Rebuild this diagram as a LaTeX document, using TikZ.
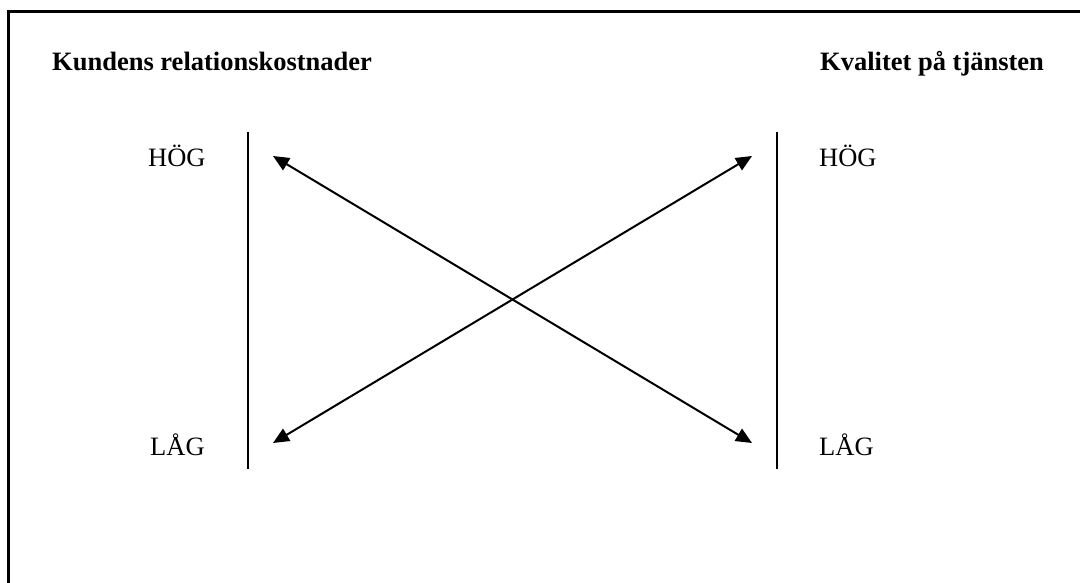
\documentclass[tikz,border=0pt]{standalone}
\usepackage{fontspec}
\setmainfont{Liberation Serif}
\usetikzlibrary{arrows.meta}
\begin{document}
\begin{tikzpicture}[x=1pt,y=-1pt,
  heading/.style={font=\fontsize{26.5}{30}\selectfont\bfseries, anchor=base west, inner sep=0pt},
  level/.style={font=\fontsize{26.5}{30}\selectfont, anchor=base west, inner sep=0pt},
  axisline/.style={line width=2pt},
  link/.style={line width=2pt,
    {Triangle[length=16pt,width=14pt]}-{Triangle[length=16pt,width=14pt]}}]
  % page area
  \useasboundingbox (0,0) rectangle (1080,583);
  \clip (0,0) rectangle (1080,583);
  \fill[white] (0,0) rectangle (1080,583);
  % outer frame (runs past the right and bottom edges)
  \draw[line width=3pt] (8,12) rectangle (1110,620);

  % headings
  \node[heading] (tl) at (52,71) {Kundens relationskostnader};
  \node[heading] (tr) at (820,71) {Kvalitet på tjänsten};

  % scale labels
  \node[level] (hl) at (148,167) {HÖG};
  \node[level] (ll) at (150,455) {LÅG};
  \node[level] (hr) at (819,167) {HÖG};
  \node[level] (lr) at (819,455) {LÅG};

  % vertical axes
  \coordinate (al1) at (248,132);
  \coordinate (al2) at (248,469);
  \coordinate (ar1) at (777,132);
  \coordinate (ar2) at (777,469);
  \draw[axisline] (al1) -- (al2);
  \draw[axisline] (ar1) -- (ar2);

  % arrow end points
  \coordinate (pHL) at (273,156);
  \coordinate (pLL) at (273,443);
  \coordinate (pHR) at (752,156);
  \coordinate (pLR) at (752,443);
  \draw[link] (pHL) -- (pLR);
  \draw[link] (pLL) -- (pHR);
\end{tikzpicture}
\end{document}
